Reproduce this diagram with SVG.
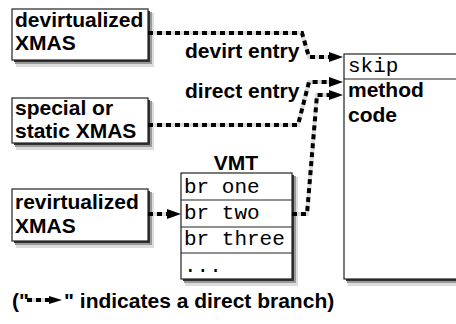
<svg xmlns="http://www.w3.org/2000/svg" width="456" height="324" viewBox="0 0 456 324">
<style>
.box{fill:#fff;stroke:#222;stroke-width:1.2}
.sh1{fill:#ddd}
.sh2{fill:#999}
.sh3{fill:#333}
.t{font-family:"Liberation Sans",Arial,Helvetica,sans-serif;font-weight:bold;font-size:21px;fill:#000}
.m{font-family:"Liberation Mono","Courier New",monospace;font-size:21px;fill:#000}
.bg{fill:none;stroke:#ddd;stroke-width:4}
.dash{fill:none;stroke:#000;stroke-width:4;stroke-dasharray:5 4}
.ah{fill:#000}
.sep{stroke:#222;stroke-width:1.2}
</style>
<rect width="456" height="324" fill="#fff"/>

<g id="devirtualized">
<rect class="sh1" x="16" y="13" width="138" height="54"/>
<rect class="sh2" x="15" y="12" width="137" height="52"/>
<rect class="sh3" x="14" y="11" width="136" height="51"/>
<rect class="box" x="12" y="9" width="136" height="51"/>
<text class="t" x="15" y="27">devirtualized</text>
<text class="t" x="15" y="50">XMAS</text>
</g>

<g id="special">
<rect class="sh1" x="16" y="102" width="138" height="48"/>
<rect class="sh2" x="15" y="101" width="137" height="46"/>
<rect class="sh3" x="14" y="100" width="136" height="45"/>
<rect class="box" x="12" y="98" width="136" height="45"/>
<text class="t" x="15" y="115">special or</text>
<text class="t" x="15" y="138">static XMAS</text>
</g>

<g id="revirtualized">
<rect class="sh1" x="16" y="193" width="138" height="55"/>
<rect class="sh2" x="15" y="192" width="137" height="53"/>
<rect class="sh3" x="14" y="191" width="136" height="52"/>
<rect class="box" x="12" y="189" width="136" height="52"/>
<text class="t" x="15" y="209">revirtualized</text>
<text class="t" x="15" y="233">XMAS</text>
</g>

<g id="vmt">
<text class="t" x="236" y="170" text-anchor="middle">VMT</text>
<rect class="sh1" x="185" y="177" width="113" height="109"/>
<rect class="sh2" x="184" y="176" width="112" height="107"/>
<rect class="sh3" x="183" y="175" width="111" height="106"/>
<rect class="box" x="181" y="173" width="111" height="106"/>
<line class="sep" x1="181" y1="200" x2="292" y2="200"/>
<line class="sep" x1="181" y1="227" x2="292" y2="227"/>
<line class="sep" x1="181" y1="253" x2="292" y2="253"/>
<text class="m" x="184" y="193">br one</text>
<text class="m" x="184" y="219">br two</text>
<text class="m" x="184" y="245">br three</text>
<text class="m" x="184" y="272">...</text>
</g>

<g id="method">
<rect class="sh1" x="348" y="58" width="120" height="228"/>
<rect class="sh2" x="347" y="57" width="120" height="226"/>
<rect class="sh3" x="346" y="56" width="120" height="225"/>
<rect class="box" x="344" y="54" width="130" height="225"/>
<line class="sep" x1="344" y1="79" x2="456" y2="79"/>
<text class="m" x="348" y="72">skip</text>
<text class="t" x="348" y="97">method</text>
<text class="t" x="348" y="122">code</text>
</g>

<g id="labels">
<text class="t" x="185" y="58">devirt entry</text>
<text class="t" x="185" y="98">direct entry</text>
</g>

<g id="connectors">
<path class="bg" d="M148,33 H302 L309,57 H330"/>
<path class="dash" d="M148,33 H302 L309,57 H330"/>
<polygon class="ah" points="329,52 343,57 329,62"/>
<path class="bg" d="M148,125 H298 L309,82 H330"/>
<path class="dash" d="M148,125 H298 L309,82 H330"/>
<polygon class="ah" points="329,77 343,82 329,87"/>
<path class="bg" d="M292,214 H307 L317,95 H330"/>
<path class="dash" d="M292,214 H307 L317,95 H330"/>
<polygon class="ah" points="329,90 343,95 329,100"/>
<path class="bg" d="M148,214 H168"/>
<path class="dash" d="M148,214 H168"/>
<polygon class="ah" points="167,209 181,214 167,219"/>
</g>

<g id="legend">
<text class="t" x="12" y="308">("</text>
<path class="bg" d="M27,300 H50"/>
<path class="dash" d="M27,300 H50"/>
<polygon class="ah" points="49,296 62,300 49,304"/>
<text class="t" x="64" y="308">" indicates a direct branch)</text>
</g>
</svg>
